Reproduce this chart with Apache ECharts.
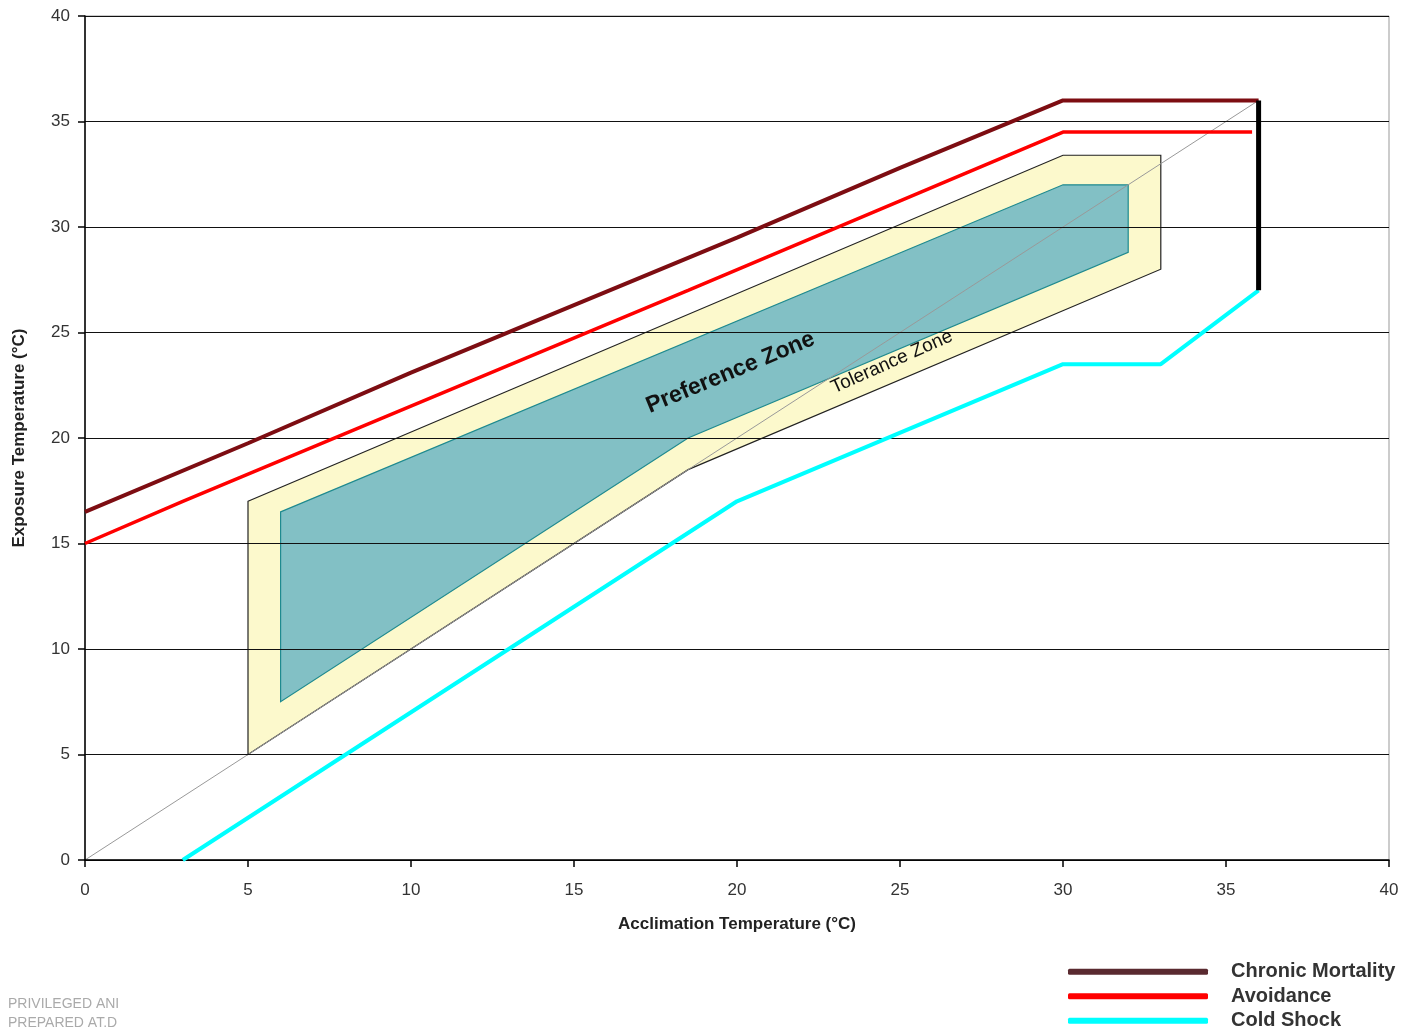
<!DOCTYPE html>
<html><head><meta charset="utf-8">
<script src="https://cdn.jsdelivr.net/npm/echarts@6/dist/echarts.min.js"></script>
<style>html,body{margin:0;padding:0;background:#fff}#c{width:1408px;height:1035px}</style>
</head><body><div id="c"></div>
<script>
const xTicks = [0,5,10,15,20,25,30,35,40];
const yTicks = [0,5,10,15,20,25,30,35,40];
const chronicMortality = [[0,16.5],[5,19.75],[10,23.1],[15,26.3],[20,29.5],[25,32.8],[30,36],[36,36]];
const avoidance = [[0,15],[3,17],[18.5,27],[30,34.5],[35.8,34.5]];
const coldShock = [[3,0],[20,17],[30,23.5],[33,23.5],[36,27]];
const limitLine = [[36,36],[36,27]];
const diagonal = [[0,0],[36,36]];
const toleranceZone = [[5,17],[30,33.4],[33,33.4],[33,28],[18.5,18.5],[5,5]];
const preferenceZone = [[6,16.5],[30,32],[32,32],[32,28.8],[18.5,20],[6,7.5]];
const zoneLabels = [
  {name:'Preference Zone', pos:[19.8,23.1], angle:22.5, size:23, bold:true},
  {name:'Tolerance Zone', pos:[24.75,23.6], angle:24, size:19, bold:false}
];

const FONT = '"Liberation Sans", Arial, sans-serif';
function polySeries(name, pts, fill, stroke, z){
  return {
    type:'custom', name:name, z:z, silent:true,
    data:[0],
    renderItem:function(params, api){
      return {type:'polygon', shape:{points: pts.map(p=>api.coord(p))},
        style:{fill:fill, stroke:stroke, lineWidth:1.2}};
    }
  };
}
const chart = echarts.init(document.getElementById('c'));
chart.setOption({
  animation:false,
  grid:{left:85, right:19, top:16, bottom:175, show:true, borderColor:'#999', borderWidth:1},
  xAxis:{type:'value', min:0, max:40, interval:5, z:3,
    name:'Acclimation Temperature (°C)', nameLocation:'middle', nameGap:56,
    nameTextStyle:{fontFamily:FONT, fontSize:17, fontWeight:'bold', color:'#222'},
    axisLine:{lineStyle:{color:'#000', width:1.5}},
    axisTick:{length:7, lineStyle:{color:'#000', width:1.5}},
    axisLabel:{margin:22, fontFamily:FONT, fontSize:17, color:'#333',
      formatter:v=>xTicks.includes(v)?String(v):''},
    splitLine:{show:false}},
  yAxis:{type:'value', min:0, max:40, interval:5, z:3,
    name:'Exposure Temperature (°C)', nameLocation:'middle', nameGap:57,
    nameTextStyle:{fontFamily:FONT, fontSize:17, fontWeight:'bold', color:'#222'},
    axisLine:{lineStyle:{color:'#000', width:1.5}},
    axisTick:{length:7, lineStyle:{color:'#000', width:1.5}},
    axisLabel:{margin:15, fontFamily:FONT, fontSize:17, color:'#333',
      formatter:v=>yTicks.includes(v)?String(v):''},
    splitLine:{lineStyle:{color:'#111', width:1.2}}},
  legend:{orient:'vertical', left:1068, top:961, padding:0, itemWidth:140, itemHeight:6, itemGap:3,
    icon:'roundRect',
    textStyle:{fontFamily:FONT, fontSize:20, lineHeight:21.5, fontWeight:'bold', color:'#333', padding:[0,0,0,18]},
    data:[
      {name:'Chronic Mortality', itemStyle:{color:'#5a2a30'}},
      {name:'Avoidance', itemStyle:{color:'#ff0000'}},
      {name:'Cold Shock', itemStyle:{color:'#00ffff'}}
    ]},
  series:[
    polySeries('Tolerance', toleranceZone, '#fcf9cc', '#222', 1),
    polySeries('Preference', preferenceZone, '#82c0c5', '#1f8a8f', 1),
    {type:'line', name:'diag', data:diagonal, z:2, symbol:'none', silent:true,
      lineStyle:{color:'#999', width:1}},
    {type:'custom', name:'labels', z:4, silent:true, data:zoneLabels.map((d,i)=>i),
      renderItem:function(params, api){
        const d = zoneLabels[params.dataIndex];
        const p = api.coord(d.pos);
        return {type:'text', x:p[0], y:p[1], rotation:d.angle*Math.PI/180,
          style:{text:d.name, fontFamily:FONT, fontSize:d.size, fontWeight:d.bold?'bold':'normal',
            fill:'#111', align:'center', verticalAlign:'middle'}};
      }},
    {type:'line', name:'Chronic Mortality', data:chronicMortality, z:6, symbol:'none',
      lineStyle:{color:'#7d0d12', width:4}, itemStyle:{color:'#5a2a30'}},
    {type:'line', name:'Avoidance', data:avoidance, z:6, symbol:'none',
      lineStyle:{color:'#ff0000', width:3.5}, itemStyle:{color:'#ff0000'}},
    {type:'line', name:'Cold Shock', data:coldShock, z:6, symbol:'none',
      lineStyle:{color:'#00ffff', width:4}, itemStyle:{color:'#00ffff'}},
    {type:'line', name:'limit', data:limitLine, z:7, symbol:'none',
      lineStyle:{color:'#000', width:5}}
  ],
  graphic:[
    {type:'text', left:8, top:997, style:{text:'PRIVILEGED ANI', fontFamily:FONT, fontSize:14, fill:'#aaa'}},
    {type:'text', left:8, top:1016, style:{text:'PREPARED AT.D', fontFamily:FONT, fontSize:14, fill:'#aaa'}}
  ]
});
</script></body></html>
